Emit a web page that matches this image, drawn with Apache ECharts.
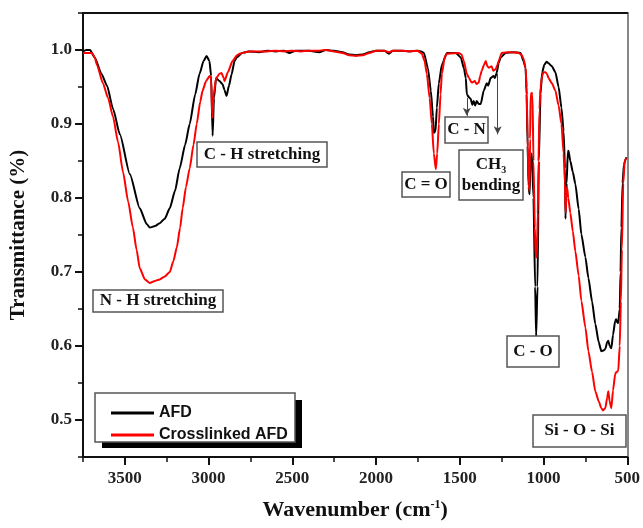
<!DOCTYPE html>
<html>
<head>
<meta charset="utf-8">
<script src="https://cdn.jsdelivr.net/npm/echarts@6/dist/echarts.min.js"></script>
<style>
  html, body { margin: 0; padding: 0; background: #fff; }
  #chart { width: 643px; height: 528px; }
</style>
</head>
<body>
<div id="chart"></div>
<script>
// AFD spectrum (wavenumber cm-1, transmittance)
const afdWave = [
  3750, 3730, 3708, 3680, 3640, 3607, 3570, 3530, 3470, 3411, 3370, 3351, 3320, 3292, 3262, 3232,
  3200, 3173, 3140, 3113, 3080, 3054, 3030, 3012, 2995, 2985, 2976, 2968, 2955, 2935, 2917, 2905,
  2893, 2878, 2863, 2845, 2833, 2800, 2760, 2700, 2650, 2600, 2550, 2518, 2480, 2400, 2339, 2300,
  2250, 2200, 2160, 2120, 2080, 2040, 2000, 1950, 1923, 1900, 1850, 1800, 1750, 1730, 1714, 1690,
  1673, 1660, 1655, 1645, 1637, 1625, 1607, 1577, 1524, 1494, 1475, 1464, 1458, 1445, 1435, 1425,
  1417, 1408, 1399, 1387, 1375, 1357, 1339, 1330, 1316, 1298, 1290, 1280, 1268, 1256, 1226, 1180,
  1137, 1120, 1107, 1101, 1095, 1089, 1083, 1078, 1070, 1060, 1050, 1044, 1036, 1028, 1018, 1008,
  995, 982, 970, 950, 929, 910, 893, 880, 872, 869, 862, 855, 851, 840, 825, 810,
  790, 774, 750, 732, 710, 691, 670, 655, 640, 631, 620, 613, 605, 595, 585, 572,
  566, 560, 554, 545, 540, 535, 528, 520, 510, 505
];
const afdTrans = [
  0.998, 1.0, 1.0, 0.99, 0.968, 0.952, 0.92, 0.886, 0.832, 0.786, 0.765, 0.76, 0.762, 0.766, 0.772, 0.786,
  0.81, 0.84, 0.872, 0.9, 0.94, 0.968, 0.985, 0.992, 0.985, 0.965, 0.884, 0.935, 0.962, 0.958, 0.954, 0.946,
  0.938, 0.952, 0.967, 0.985, 0.99, 0.996, 0.998, 0.997, 0.999, 0.998, 0.999, 0.996, 0.999, 0.999, 0.997, 1.0,
  0.999, 0.997, 0.994, 0.993, 0.994, 0.997, 0.999, 0.999, 0.995, 0.999, 0.999, 0.998, 0.999, 0.998, 0.996, 0.975,
  0.945, 0.91, 0.888, 0.89, 0.922, 0.955, 0.98, 0.996, 0.996, 0.99, 0.975, 0.962, 0.94, 0.936, 0.934, 0.926,
  0.931, 0.925, 0.931, 0.927, 0.927, 0.945, 0.955, 0.952, 0.962, 0.965, 0.962, 0.969, 0.982, 0.99, 0.996, 0.997,
  0.996, 0.985, 0.976, 0.94, 0.87, 0.815, 0.805, 0.85, 0.86, 0.8, 0.68, 0.613, 0.68, 0.85, 0.94, 0.97,
  0.98, 0.984, 0.982, 0.978, 0.97, 0.95, 0.922, 0.89, 0.84, 0.772, 0.82, 0.862, 0.864, 0.85, 0.835, 0.819,
  0.785, 0.751, 0.72, 0.692, 0.66, 0.63, 0.605, 0.593, 0.594, 0.596, 0.605, 0.607, 0.6, 0.597, 0.615, 0.634,
  0.636, 0.632, 0.631, 0.65, 0.7, 0.76, 0.82, 0.845, 0.852, 0.855
];

// Crosslinked AFD spectrum
const crossWave = [
  3750, 3720, 3696, 3680, 3667, 3631, 3600, 3571, 3540, 3511, 3480, 3452, 3430, 3411, 3380, 3351,
  3320, 3292, 3262, 3232, 3210, 3190, 3170, 3155, 3135, 3113, 3090, 3071, 3050, 3036, 3015, 2994,
  2985, 2978, 2970, 2955, 2935, 2923, 2910, 2905, 2885, 2857, 2830, 2815, 2760, 2700, 2650, 2600,
  2550, 2500, 2450, 2400, 2350, 2300, 2250, 2200, 2160, 2120, 2080, 2040, 2000, 1950, 1923, 1900,
  1850, 1800, 1750, 1740, 1726, 1710, 1697, 1680, 1667, 1655, 1643, 1635, 1625, 1615, 1607, 1590,
  1577, 1506, 1490, 1476, 1458, 1445, 1429, 1410, 1400, 1387, 1378, 1369, 1355, 1345, 1335, 1327,
  1310, 1300, 1286, 1275, 1268, 1250, 1200, 1149, 1130, 1119, 1107, 1101, 1095, 1089, 1084, 1080,
  1077, 1070, 1066, 1060, 1052, 1046, 1040, 1034, 1030, 1024, 1018, 1008, 1000, 990, 980, 970,
  950, 929, 910, 893, 880, 872, 868, 864, 860, 852, 840, 825, 810, 790, 774, 750,
  732, 710, 691, 670, 655, 645, 631, 620, 613, 605, 595, 585, 572, 565, 554, 545,
  538, 532, 524, 515, 506
];
const crossTrans = [
  0.996, 0.996, 0.996, 0.99, 0.98, 0.955, 0.935, 0.91, 0.875, 0.835, 0.795, 0.76, 0.73, 0.705, 0.69, 0.685,
  0.688, 0.69, 0.694, 0.7, 0.715, 0.733, 0.76, 0.786, 0.815, 0.84, 0.872, 0.9, 0.93, 0.945, 0.958, 0.965,
  0.962, 0.908, 0.94, 0.962, 0.968, 0.969, 0.962, 0.958, 0.97, 0.985, 0.993, 0.995, 0.998, 0.998, 0.998, 0.999,
  0.998, 0.999, 0.998, 0.999, 0.999, 1.0, 0.998, 0.996, 0.993, 0.992, 0.993, 0.996, 0.999, 0.999, 0.997, 0.999,
  0.999, 0.998, 0.999, 0.997, 0.995, 0.985, 0.968, 0.935, 0.9, 0.86, 0.839, 0.86, 0.9, 0.94, 0.968, 0.99,
  0.995, 0.996, 0.994, 0.985, 0.968, 0.962, 0.956, 0.958, 0.954, 0.956, 0.965, 0.972, 0.98, 0.985, 0.978, 0.976,
  0.978, 0.972, 0.974, 0.98, 0.985, 0.996, 0.997, 0.996, 0.993, 0.988, 0.976, 0.95, 0.88, 0.82, 0.81, 0.88,
  0.94, 0.942, 0.94, 0.85, 0.76, 0.72, 0.72, 0.78, 0.85, 0.92, 0.95, 0.965, 0.97, 0.97, 0.968, 0.962,
  0.955, 0.945, 0.925, 0.9, 0.86, 0.82, 0.78, 0.8, 0.815, 0.8, 0.78, 0.755, 0.728, 0.695, 0.661, 0.625,
  0.593, 0.565, 0.539, 0.525, 0.516, 0.513, 0.516, 0.53, 0.539, 0.525, 0.516, 0.54, 0.562, 0.565, 0.566, 0.6,
  0.66, 0.73, 0.82, 0.85, 0.854
];

const xMajorTicks = [500, 1000, 1500, 2000, 2500, 3000, 3500];
const yMajorTicks = [0.5, 0.6, 0.7, 0.8, 0.9, 1.0];
const seriesNames = ["AFD", "Crosslinked AFD"];

// peak labels: text, box [x, y, w, h] in px
const peakLabels = [
  { text: "C - H stretching", box: [197, 142, 130, 25] },
  { text: "N - H stretching", box: [93, 290, 130, 22] },
  { text: "C = O", box: [402, 172, 48, 25] },
  { text: "C - N", box: [445, 117, 43, 26] },
  { text: "{t|CH}{s|3}\n{t|bending}", box: [459, 150, 64, 50] },
  { text: "C - O", box: [507, 336, 52, 31] },
  { text: "Si - O - Si", box: [533, 415, 93, 32] },
];

const serif = '"Liberation Serif", "Times New Roman", serif';
const sans = '"Liberation Sans", Arial, sans-serif';

const chart = echarts.init(document.getElementById("chart"), null, { renderer: "canvas" });

const zip = (xs, ys) => xs.map((x, i) => [x, ys[i]]);

const labelGraphics = [];
peakLabels.forEach((p) => {
  const [x, y, w, h] = p.box;
  labelGraphics.push({
    type: "rect",
    z: 100,
    shape: { x, y, width: w, height: h },
    style: { fill: "#fff", stroke: "#555", lineWidth: 1.5 },
  });
  labelGraphics.push({
    type: "text",
    z: 101,
    x: x + w / 2,
    y: y + h / 2,
    style: {
      text: p.text,
      fill: "#111",
      font: `bold 17px ${serif}`,
      align: "center",
      verticalAlign: "middle",
      rich: {
        t: { font: `bold 17px ${serif}`, fill: "#111", lineHeight: 21 },
        s: { font: `bold 10px ${serif}`, fill: "#111", lineHeight: 21, verticalAlign: "bottom", padding: [8, 0, 0, 0] },
      },
    },
  });
});

const legendBox = [
  { type: "rect", z: 50, shape: { x: 102, y: 400, width: 200, height: 48 }, style: { fill: "#000" } },
  { type: "rect", z: 51, shape: { x: 95, y: 393, width: 200, height: 49 }, style: { fill: "#fff", stroke: "#555", lineWidth: 1.5 } },
];

const hidden = { show: false };

chart.setOption({
  animation: false,
  backgroundColor: "#fff",
  grid: { left: 83, right: 14, top: 13, bottom: 71 },
  legend: {
    z: 60,
    data: seriesNames,
    orient: "vertical",
    left: 106,
    top: 400,
    icon: "rect",
    itemWidth: 43,
    itemHeight: 3,
    itemGap: 6,
    selectedMode: false,
    textStyle: { color: "#111", fontFamily: sans, fontWeight: "bold", fontSize: 16, lineHeight: 16 },
  },
  xAxis: [
    {
      type: "value",
      position: "bottom",
      inverse: true,
      min: 500,
      max: 3750,
      interval: 500,
      name: "Wavenumber (cm{sup|-1})",
      nameLocation: "middle",
      nameGap: 42,
      nameTextStyle: {
        color: "#111",
        fontFamily: serif,
        fontWeight: "bold",
        fontSize: 22,
        rich: { sup: { fontFamily: serif, fontWeight: "bold", fontSize: 12, verticalAlign: "top", color: "#111" } },
      },
      axisLine: { onZero: false, lineStyle: { color: "#111", width: 2 } },
      axisTick: { customValues: xMajorTicks, length: 8, lineStyle: { color: "#111", width: 2 } },
      axisLabel: {
        customValues: xMajorTicks,
        margin: 13,
        color: "#222",
        fontFamily: serif,
        fontWeight: "bold",
        fontSize: 17,
        formatter: (v) => (v % 500 === 0 ? String(v) : ""),
      },
      splitLine: hidden,
    },
    {
      type: "value",
      position: "bottom",
      inverse: true,
      min: 500,
      max: 3750,
      interval: 250,
      axisLine: { show: false, onZero: false },
      axisTick: { length: 5, lineStyle: { color: "#111", width: 1.5 } },
      axisLabel: hidden,
      splitLine: hidden,
    },
    {
      type: "value",
      position: "top",
      inverse: true,
      min: 500,
      max: 3750,
      axisLine: { onZero: false, lineStyle: { color: "#111", width: 2 } },
      axisTick: hidden,
      axisLabel: hidden,
      splitLine: hidden,
    },
  ],
  yAxis: [
    {
      type: "value",
      position: "left",
      min: 0.45,
      max: 1.05,
      interval: 0.05,
      name: "Transmittance (%)",
      nameLocation: "middle",
      nameGap: 54,
      nameTextStyle: { color: "#111", fontFamily: serif, fontWeight: "bold", fontSize: 21 },
      axisLine: { onZero: false, lineStyle: { color: "#111", width: 2 } },
      axisTick: { customValues: yMajorTicks, length: 8, lineStyle: { color: "#111", width: 2 } },
      axisLabel: {
        customValues: yMajorTicks,
        margin: 11,
        color: "#222",
        fontFamily: serif,
        fontWeight: "bold",
        fontSize: 17,
        formatter: (v) => (Math.abs(v * 10 - Math.round(v * 10)) < 1e-6 ? v.toFixed(1) : ""),
      },
      splitLine: hidden,
    },
    {
      type: "value",
      position: "left",
      min: 0.45,
      max: 1.05,
      interval: 0.05,
      axisLine: { show: false, onZero: false },
      axisTick: { length: 5, lineStyle: { color: "#111", width: 1.5 } },
      axisLabel: hidden,
      splitLine: hidden,
    },
    {
      type: "value",
      position: "right",
      min: 0.45,
      max: 1.05,
      axisLine: { onZero: false, lineStyle: { color: "#888", width: 2 } },
      axisTick: hidden,
      axisLabel: hidden,
      splitLine: hidden,
    },
  ],
  series: [
    {
      name: seriesNames[0],
      type: "line",
      data: zip(afdWave, afdTrans),
      showSymbol: false,
      symbol: "none",
      smooth: 0.2,
      smoothMonotone: "x",
      color: "#000",
      lineStyle: { color: "#000", width: 2 },
      markLine: {
        silent: true,
        symbol: ["none", "arrow"],
        symbolSize: [6, 8],
        label: { show: false },
        lineStyle: { color: "#444", width: 1, type: "solid" },
        data: [
          [{ coord: [1458, 0.935] }, { coord: [1458, 0.911] }],
          [{ coord: [1274, 0.968] }, { coord: [1274, 0.886] }],
        ],
      },
    },
    {
      name: seriesNames[1],
      type: "line",
      data: zip(crossWave, crossTrans),
      showSymbol: false,
      symbol: "none",
      smooth: 0.2,
      smoothMonotone: "x",
      color: "#ff0000",
      lineStyle: { color: "#ff0000", width: 2 },
    },
  ],
  graphic: [...legendBox, ...labelGraphics],
});
</script>
</body>
</html>
